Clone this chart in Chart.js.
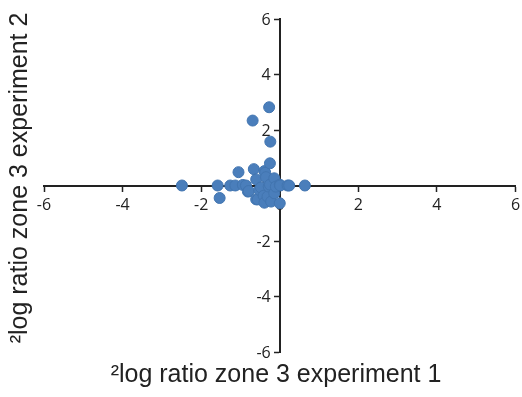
<!DOCTYPE html>
<html>
<head>
<meta charset="utf-8">
<script src="https://cdn.jsdelivr.net/npm/chart.js@4/dist/chart.umd.min.js"></script>
<style>
  html, body { margin: 0; padding: 0; background: #fff; }
  #wrap { width: 522px; height: 397px; position: relative; }
</style>
</head>
<body>
<div id="wrap"><canvas id="scatterChart"></canvas></div>
<script>
// log2 ratios (experiment 1 on x, experiment 2 on y)
const exp1 = [-2.49, -1.58, -1.53, -1.26, -1.13, -1.05, -0.94, -0.86, -0.81, -0.79,
              -0.69, -0.66, -0.60, -0.60, -0.56, -0.52, -0.48, -0.41, -0.39, -0.39,
              -0.37, -0.35, -0.31, -0.28, -0.27, -0.25, -0.24, -0.25, -0.22, -0.14,
              -0.14, -0.10, 0.00, 0.00, 0.01, 0.20, 0.24, 0.64];
const exp2 = [0.00, 0.00, -0.45, 0.00, 0.00, 0.48, 0.02, 0.00, -0.22, -0.20,
              2.34, 0.59, 0.22, -0.50, -0.50, -0.16, -0.07, -0.37, 0.52, -0.62,
              0.46, 0.30, -0.40, -0.04, 2.82, 0.80, 1.58, 0.03, -0.58, 0.26,
              -0.28, -0.04, -0.64, 0.03, 0.00, 0.00, 0.00, 0.00];
const tickValues = [-6, -4, -2, 0, 2, 4, 6];
const xTitle = '\u00B2log ratio zone 3 experiment 1';
const yTitle = '\u00B2log ratio zone 3 experiment 2';

const points = exp1.map((x, i) => ({ x: x, y: exp2[i] }));
const tickFont = '16px "Open Sans", sans-serif';

// y tick labels go under the points, like in the original
const yTickLabels = {
    id: 'yTickLabels',
    beforeDatasetsDraw(chart) {
        const ctx = chart.ctx;
        const xs = chart.scales.x, ys = chart.scales.y;
        const axisX = xs.getPixelForValue(0);
        ctx.save();
        ctx.fillStyle = '#222';
        ctx.font = tickFont;
        ctx.textAlign = 'right';
        ctx.textBaseline = 'middle';
        ys.ticks.forEach(t => {
            ctx.fillText(String(t.value), axisX - 9, ys.getPixelForValue(t.value) + 1);
        });
        ctx.restore();
    }
};

// axis titles by hand, the built-in ones would hug the centred axes
const axisTitles = {
    id: 'axisTitles',
    afterDraw(chart) {
        const ctx = chart.ctx;
        ctx.save();
        ctx.fillStyle = '#222';
        ctx.font = '25px "Liberation Sans", Arial, sans-serif';
        ctx.textAlign = 'center';
        ctx.textBaseline = 'middle';
        ctx.fillText(xTitle, 276, 375);
        ctx.translate(20, 178);
        ctx.rotate(-Math.PI / 2);
        ctx.fillText(yTitle, 0, 0);
        ctx.restore();
    }
};

const axisStyle = {
    min: -6,
    max: 6,
    afterBuildTicks: axis => { axis.ticks = tickValues.map(v => ({ value: v })); },
    grid: { drawOnChartArea: false, drawTicks: true, tickLength: 5, tickWidth: 1.5, color: '#222' },
    border: { display: true, color: '#222', width: 2 }
};

const ctx = document.getElementById('scatterChart').getContext('2d');
const scatterChart = new Chart(ctx, {
    type: 'scatter',
    data: {
        datasets: [{
            data: points,
            backgroundColor: '#4A7EBB',
            borderColor: '#4275B0',
            borderWidth: 1,
            pointRadius: 5.5
        }]
    },
    options: {
        responsive: true,
        maintainAspectRatio: false,
        animation: false,
        layout: { padding: { left: 44, right: 5, top: 19, bottom: 45 } },
        plugins: { legend: { display: false }, tooltip: { enabled: false } },
        scales: {
            x: Object.assign({
                type: 'linear',
                position: { y: 0 },
                afterFit: s => { s.paddingRight = 0; s.paddingLeft = 0; },
                ticks: { color: '#222', padding: 5, font: { family: '"Open Sans", sans-serif', size: 16 } }
            }, axisStyle),
            y: Object.assign({
                type: 'linear',
                position: { x: 0 },
                ticks: { display: false }
            }, axisStyle)
        }
    },
    plugins: [yTickLabels, axisTitles]
});
</script>
</body>
</html>
